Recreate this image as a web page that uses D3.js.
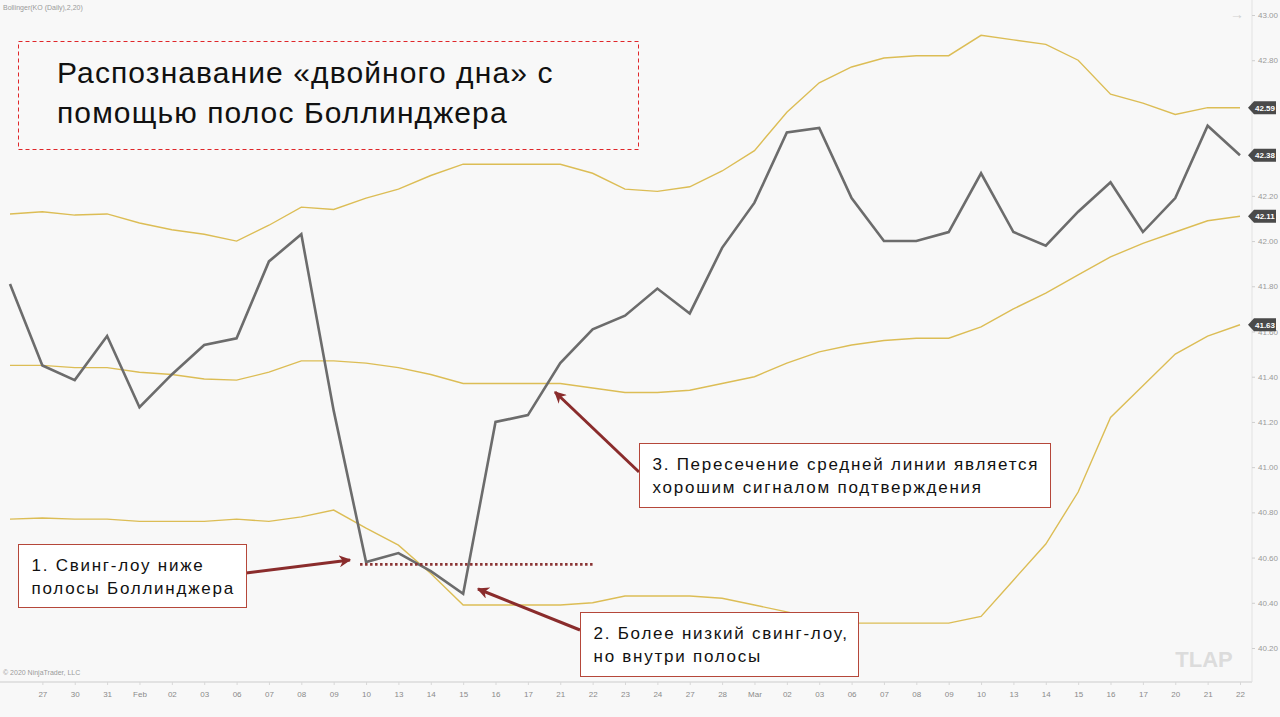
<!DOCTYPE html>
<html>
<head>
<meta charset="utf-8">
<script src="https://cdn.jsdelivr.net/npm/d3@7"></script>
<style>
  body { margin: 0; background: #f8f8f8; }
  svg { display: block; font-family: "Liberation Sans", Arial, sans-serif; }
</style>
</head>
<body>
<div id="chart"></div>
<script>
// Trading days (first one has no visible label)
var dates = ["26", "27", "30", "31", "Feb", "02", "03", "06", "07", "08", "09", "10", "13", "14", "15", "16", "17", "21", "22", "23",
    "24", "27", "28", "Mar", "02", "03", "06", "07", "08", "09", "10", "13", "14", "15", "16", "17", "20", "21", "22"];

// Close prices, KO daily
var close = [41.81, 41.45, 41.385, 41.58, 41.265, 41.41, 41.54, 41.57, 41.91, 42.03, 41.25, 40.58, 40.62, 40.54, 40.44, 41.20, 41.23, 41.46, 41.61, 41.67,
    41.79, 41.68, 41.97, 42.17, 42.48, 42.50, 42.19, 42.00, 42.00, 42.04, 42.30, 42.04, 41.98, 42.13, 42.26, 42.04, 42.19, 42.51, 42.38];

// Bollinger (20, 2)
var upper = [42.12, 42.13, 42.115, 42.12, 42.08, 42.05, 42.03, 42.00, 42.07, 42.15, 42.14, 42.19, 42.23, 42.29, 42.34, 42.34, 42.34, 42.34, 42.30, 42.23,
    42.22, 42.24, 42.31, 42.40, 42.57, 42.70, 42.77, 42.81, 42.82, 42.82, 42.91, 42.89, 42.87, 42.80, 42.65, 42.61, 42.56, 42.59, 42.59];
var middle = [41.45, 41.45, 41.44, 41.44, 41.42, 41.41, 41.39, 41.385, 41.42, 41.47, 41.47, 41.46, 41.44, 41.41, 41.37, 41.37, 41.37, 41.37, 41.35, 41.33,
    41.33, 41.34, 41.37, 41.40, 41.46, 41.51, 41.54, 41.56, 41.57, 41.57, 41.62, 41.70, 41.77, 41.85, 41.93, 41.99, 42.04, 42.09, 42.11];
var lower = [40.77, 40.775, 40.77, 40.77, 40.76, 40.76, 40.76, 40.77, 40.76, 40.78, 40.81, 40.73, 40.655, 40.53, 40.39, 40.39, 40.39, 40.39, 40.40, 40.43,
    40.43, 40.43, 40.42, 40.39, 40.36, 40.33, 40.31, 40.31, 40.31, 40.31, 40.34, 40.50, 40.66, 40.89, 41.22, 41.36, 41.50, 41.58, 41.63];

var yTicks = [43.0, 42.8, 42.2, 42.0, 41.8, 41.6, 41.4, 41.2, 41.0, 40.8, 40.6, 40.4, 40.2];
var lastTags = [42.59, 42.38, 42.11, 41.63];

var width = 1280, height = 717;
var plotRight = 1252, plotBottom = 682;

var svg = d3.select("#chart").append("svg")
    .attr("width", width)
    .attr("height", height);

svg.append("rect").attr("width", width).attr("height", height).attr("fill", "#f8f8f8");

var idx = d3.range(dates.length);
var x = d3.scaleLinear().domain([0, dates.length - 1]).range([10, 1240]);
var y = d3.scaleLinear().domain([40.2, 43.0]).range([648, 15]);

// axis frame
svg.append("line").attr("x1", plotRight).attr("x2", plotRight).attr("y1", 0).attr("y2", plotBottom)
    .attr("stroke", "#e2e2e2");
svg.append("line").attr("x1", 0).attr("x2", plotRight).attr("y1", plotBottom).attr("y2", plotBottom)
    .attr("stroke", "#e2e2e2").attr("stroke-width", 2);

// right price axis
var yAxis = svg.append("g")
    .attr("transform", `translate(${plotRight},0)`)
    .call(d3.axisRight(y).tickValues(yTicks).tickFormat(d3.format(".2f")).tickSize(3).tickPadding(3));
yAxis.select(".domain").remove();
yAxis.selectAll("line").attr("stroke", "#cfcfcf");
yAxis.selectAll("text").attr("fill", "#9a9a9a").style("font-size", "8px");

// bottom date axis
var xAxis = svg.append("g")
    .attr("transform", `translate(0,${plotBottom})`)
    .call(d3.axisBottom(x).tickValues(idx.slice(1)).tickFormat(i => dates[i]).tickSize(3).tickPadding(6));
xAxis.select(".domain").remove();
xAxis.selectAll("line").attr("stroke", "#d8d8d8");
xAxis.selectAll("text").attr("fill", "#8a8a8a").style("font-size", "8px");

// small texts
svg.append("text").attr("x", 3).attr("y", 10).text("Bollinger(KO (Daily),2,20)")
    .attr("fill", "#9a9a9a").style("font-size", "7px");
svg.append("text").attr("x", 3).attr("y", 675).text("© 2020 NinjaTrader, LLC")
    .attr("fill", "#9a9a9a").style("font-size", "7px");
svg.append("text").attr("x", 1237).attr("y", 19).text("→")
    .attr("fill", "#d0d0d0").style("font-size", "14px").attr("text-anchor", "middle");
svg.append("text").attr("x", 1204).attr("y", 667).text("TLAP")
    .attr("fill", "#dcdcdc").style("font-size", "22px").style("font-weight", "bold")
    .attr("text-anchor", "middle");

// lines
var line = d3.line().x((d, i) => x(i)).y(d => y(d));
[upper, middle, lower].forEach(function(s) {
    svg.append("path").datum(s).attr("d", line)
        .attr("fill", "none").attr("stroke", "#dcbd55").attr("stroke-width", 1.4);
});
svg.append("path").datum(close).attr("d", line)
    .attr("fill", "none").attr("stroke", "#6c6c6c").attr("stroke-width", 2.6);

// last value tags
var tags = svg.selectAll(".tag").data(lastTags).enter().append("g")
    .attr("transform", d => `translate(${plotRight - 4},${y(d)})`);
tags.append("path").attr("d", "M0,0 L6,-6.5 L28,-6.5 L28,6.5 L6,6.5 Z").attr("fill", "#4a4a4a");
tags.append("text").attr("x", 17).attr("y", 3).attr("text-anchor", "middle")
    .text(d => d.toFixed(2)).attr("fill", "#fff").style("font-size", "8px").style("font-weight", "bold");

// title box
svg.append("rect").attr("x", 18.5).attr("y", 41.5).attr("width", 620).attr("height", 108)
    .attr("fill", "#f8f8f8").attr("stroke", "#e0262a").attr("stroke-dasharray", "4,3");
["Распознавание «двойного дна» с", "помощью полос Боллинджера"].forEach(function(t, i) {
    svg.append("text").attr("x", 57).attr("y", 83 + i * 40).text(t)
        .style("font-size", "30px").style("letter-spacing", "1.1px").attr("fill", "#111");
});

// annotations
var arrowColor = "#8a2c2c";
svg.append("defs").append("marker")
    .attr("id", "head").attr("viewBox", "0 0 10 10").attr("refX", 9).attr("refY", 5)
    .attr("markerWidth", 4).attr("markerHeight", 4).attr("orient", "auto")
    .append("path").attr("d", "M0,0 L10,5 L0,10 L3,5 Z").attr("fill", arrowColor);

// dotted level of the first swing low
svg.append("line").attr("x1", x(11) - 6).attr("x2", x(18)).attr("y1", y(40.57)).attr("y2", y(40.57))
    .attr("stroke", "#8a3434").attr("stroke-width", 2.6).attr("stroke-dasharray", "2.5,2.5");

var notes = [
    { x: 18.5, y: 544.5, w: 228, h: 63, lines: ["1. Свинг-лоу ниже", "полосы Боллинджера"], from: [246, 573], to: [350, 560] },
    { x: 580.5, y: 612.5, w: 278, h: 64, lines: ["2. Более низкий свинг-лоу,", "но внутри полосы"], from: [580, 630], to: [478, 589] },
    { x: 639.5, y: 443.5, w: 411, h: 64, lines: ["3. Пересечение средней линии является", "хорошим сигналом подтверждения"], from: [639, 472], to: [555, 392] }
];

notes.forEach(function(n) {
    svg.append("line").attr("x1", n.from[0]).attr("y1", n.from[1]).attr("x2", n.to[0]).attr("y2", n.to[1])
        .attr("stroke", arrowColor).attr("stroke-width", 3).attr("marker-end", "url(#head)");
    svg.append("rect").attr("x", n.x).attr("y", n.y).attr("width", n.w).attr("height", n.h)
        .attr("fill", "#fff").attr("stroke", "#b5473a");
    n.lines.forEach(function(t, i) {
        svg.append("text").attr("x", n.x + 13).attr("y", n.y + 26 + i * 23).text(t)
            .style("font-size", "17px").style("letter-spacing", "1.75px").attr("fill", "#111");
    });
});
</script>
</body>
</html>
